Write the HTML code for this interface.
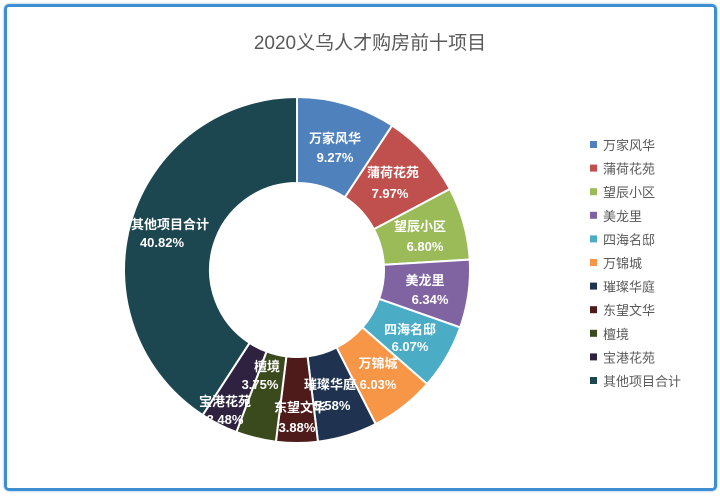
<!DOCTYPE html>
<html><head><meta charset="utf-8"><style>
html,body{margin:0;padding:0;background:#fff;}
body{width:720px;height:497px;position:relative;overflow:hidden;font-family:"Liberation Sans","Noto Sans CJK SC",sans-serif;}
.frame{position:absolute;left:4px;top:4px;width:707px;height:481px;border:3px solid #3d8fd1;border-radius:5px;box-shadow:0 0 2px #7fb5e3;}
</style></head><body>
<div class="frame"></div>
<svg id="s" width="720" height="497" style="position:absolute;left:0;top:0" font-family="Liberation Sans, Noto Sans CJK SC, sans-serif">
<text x="370" y="49" text-anchor="middle" font-size="19" fill="#595959">2020义乌人才购房前十项目</text>
<g id="pie"></g>
<g id="lab" font-size="13" font-weight="bold" fill="#fff" text-anchor="middle"></g>
<g id="leg" font-size="13" fill="#595959"></g>
</svg>
<script>
var d=[["万家风华",9.27,"#4f81bd",335,143,335,162],["蒲荷花苑",7.97,"#c0504d",393,177,390,198],["望辰小区",6.80,"#9bbb59",420,231,425,251],["美龙里",6.34,"#8064a2",425,285,430,304],["四海名邸",6.07,"#4bacc6",410,334,410,351],["万锦城",6.03,"#f79646",378,368,378,389],["璀璨华庭",5.58,"#1f3350",330,389,332,410],["东望文华",3.88,"#4f1a1a",300,412,297,432],["檀境",3.75,"#3b4a1d",267,371,260,389],["宝港花苑",3.48,"#2e2240",225,406,225,424],["其他项目合计",40.82,"#1c4650",170,229,162,247]];
var cx=297,cy=270,R=173,r=87,a=0,ns="http://www.w3.org/2000/svg",tot=99.99;
var P=document.getElementById("pie"),L=document.getElementById("lab"),G=document.getElementById("leg");
function pt(rad,an){return [cx+rad*Math.sin(an),cy-rad*Math.cos(an)];}
d.forEach(function(e,i){
 var a1=a+e[1]/tot*2*Math.PI,lg=(a1-a)>Math.PI?1:0;
 var p1=pt(R,a),p2=pt(R,a1),p3=pt(r,a1),p4=pt(r,a);
 var p=document.createElementNS(ns,"path");
 p.setAttribute("d","M"+p1+"A"+R+","+R+" 0 "+lg+" 1 "+p2+"L"+p3+"A"+r+","+r+" 0 "+lg+" 0 "+p4+"Z");
 p.setAttribute("fill",e[2]);p.setAttribute("stroke","#fff");p.setAttribute("stroke-width","2");
 P.appendChild(p);a=a1;
 var t=document.createElementNS(ns,"text");t.setAttribute("x",e[3]);t.setAttribute("y",e[4]);t.textContent=e[0];L.appendChild(t);
 t=document.createElementNS(ns,"text");t.setAttribute("x",e[5]);t.setAttribute("y",e[6]);t.textContent=e[1].toFixed(2)+"%";L.appendChild(t);
 var y=145+i*23.6;
 var q=document.createElementNS(ns,"rect");q.setAttribute("x",590);q.setAttribute("y",y-4);q.setAttribute("width",7);q.setAttribute("height",7);q.setAttribute("fill",e[2]);G.appendChild(q);
 t=document.createElementNS(ns,"text");t.setAttribute("x",603);t.setAttribute("y",y+5);t.textContent=e[0];G.appendChild(t);
});
</script>
</body></html>
